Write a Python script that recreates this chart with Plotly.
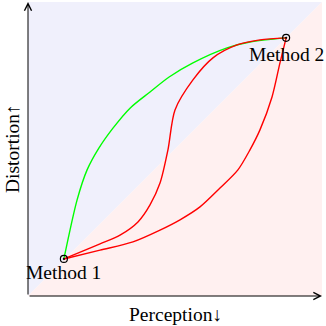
import plotly.graph_objects as go

# Method end points
method_names = ["Method 1", "Method 2"]
method_x = [0.122, 0.878]
method_y = [0.126, 0.878]

# Green curve (upper-left path)
green_x = [0.122, 0.167, 0.201, 0.241, 0.289, 0.347, 0.415, 0.480, 0.561, 0.677, 0.755, 0.878]
green_y = [0.126, 0.327, 0.429, 0.503, 0.571, 0.639, 0.694, 0.745, 0.793, 0.844, 0.864, 0.878]

# Red curve, S-shaped branch
red1_x = [0.122, 0.245, 0.313, 0.374, 0.415, 0.449, 0.476, 0.500, 0.561, 0.629, 0.711, 0.789, 0.878]
red1_y = [0.126, 0.177, 0.207, 0.252, 0.310, 0.384, 0.497, 0.633, 0.735, 0.810, 0.854, 0.871, 0.878]

# Red curve, lower branch
red2_x = [0.122, 0.245, 0.357, 0.449, 0.517, 0.585, 0.653, 0.714, 0.755, 0.789, 0.830, 0.857, 0.878]
red2_y = [0.126, 0.156, 0.184, 0.224, 0.259, 0.303, 0.367, 0.429, 0.497, 0.565, 0.677, 0.793, 0.878]

# Background regions
blue_x = [0, 0, 1, 0]
blue_y = [0, 1, 1, 0]
pink_x = [0, 1, 1, 0]
pink_y = [0, 0, 1, 0]

FONT = "Liberation Serif"

fig = go.Figure()
fig.add_trace(go.Scatter(x=blue_x, y=blue_y, fill="toself", mode="none",
                         fillcolor="rgb(240,240,252)", hoverinfo="skip"))
fig.add_trace(go.Scatter(x=pink_x, y=pink_y, fill="toself", mode="none",
                         fillcolor="rgb(255,240,240)", hoverinfo="skip"))
fig.add_trace(go.Scatter(x=green_x, y=green_y, mode="lines",
                         line=dict(color="rgb(0,255,0)", width=1.4, shape="spline", smoothing=0.8)))
fig.add_trace(go.Scatter(x=red1_x, y=red1_y, mode="lines",
                         line=dict(color="rgb(255,0,0)", width=1.4, shape="spline", smoothing=0.8)))
fig.add_trace(go.Scatter(x=red2_x, y=red2_y, mode="lines",
                         line=dict(color="rgb(255,0,0)", width=1.4, shape="spline", smoothing=0.8)))
fig.add_trace(go.Scatter(x=method_x, y=method_y, mode="markers",
                         marker=dict(symbol="circle-open-dot", size=7, color="black",
                                     line=dict(color="black", width=1.2))))

shifts = [-14, -17]
for name, mx, my, s in zip(method_names, method_x, method_y, shifts):
    fig.add_annotation(x=mx, y=my, text=name, showarrow=False, yshift=s,
                       xanchor="center", yanchor="middle",
                       font=dict(family=FONT, size=19.5, color="black"))

# axis arrows
fig.add_annotation(x=1, y=0, ax=0, ay=0, xref="x", yref="y", axref="x", ayref="y",
                   showarrow=True, arrowhead=5, arrowsize=1.4, arrowwidth=1, arrowcolor="black", text="")
fig.add_annotation(x=0, y=1, ax=0, ay=0, xref="x", yref="y", axref="x", ayref="y",
                   showarrow=True, arrowhead=5, arrowsize=1.4, arrowwidth=1, arrowcolor="black", text="")

fig.add_annotation(x=0.5, y=0, xref="paper", yref="paper", text="Perception↓", showarrow=False,
                   yshift=-18, xanchor="center", yanchor="middle",
                   font=dict(family=FONT, size=19.5, color="black"))
fig.add_annotation(x=0, y=0.5, xref="paper", yref="paper", text="Distortion↑", showarrow=False,
                   xshift=-16, textangle=-90, xanchor="center", yanchor="middle",
                   font=dict(family=FONT, size=19.5, color="black"))

fig.update_layout(width=326, height=326, margin=dict(l=28, r=4, t=2, b=30),
                  paper_bgcolor="white", plot_bgcolor="white", showlegend=False)
fig.update_xaxes(range=[0, 1], showgrid=False, zeroline=False, showticklabels=False, ticks="")
fig.update_yaxes(range=[0, 1], showgrid=False, zeroline=False, showticklabels=False, ticks="")

fig.write_html("out.html", config={"displayModeBar": False},
               post_script="document.body.style.margin='0';")
